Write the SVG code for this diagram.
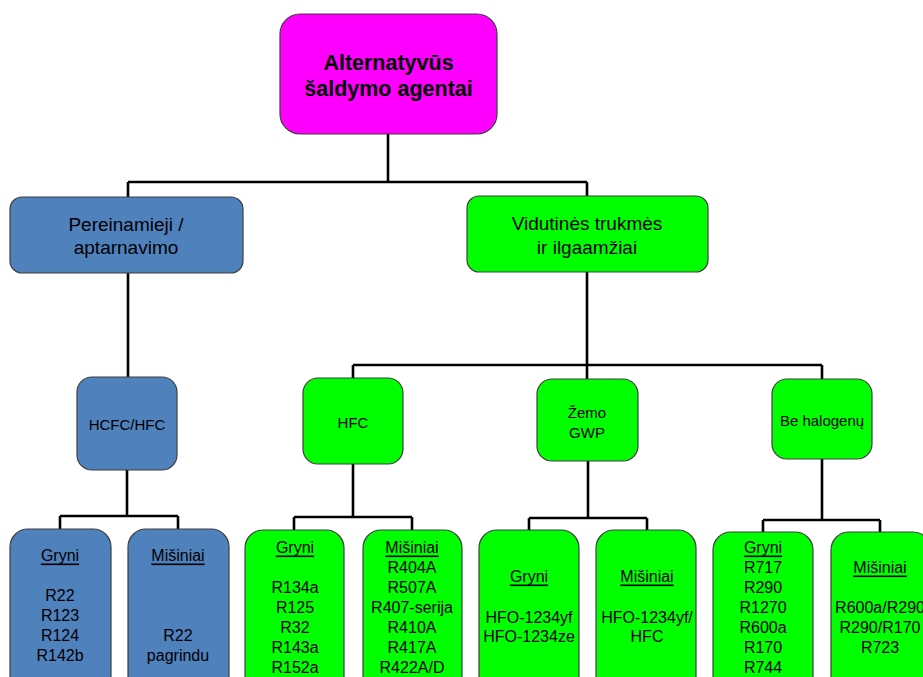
<svg xmlns="http://www.w3.org/2000/svg" width="923" height="677" viewBox="0 0 923 677">
<style>
text{font-family:"Liberation Sans",Arial,sans-serif;fill:#000;text-anchor:middle;dominant-baseline:central}
.box{stroke:#3f3f3f;stroke-width:1.2}
.blue{fill:#4F81BD}
.green{fill:#00FF00}
.mag{fill:#FF00FF}
.conn{stroke:#000;stroke-width:2.6;fill:none}
.t19{font-size:19px}
.t15{font-size:15px}
.t16{font-size:16px}
.u{text-decoration:underline}
</style>
<rect width="923" height="677" fill="#fff"/>
<g id="connectors">
<path class="conn" d="M388,134 V182 M128,182 H587 M128,182 V197 M587,182 V196"/>
<path class="conn" d="M128,273 V377"/>
<path class="conn" d="M587,272 V379 M353,365 H822 M353,365 V378 M822,365 V379"/>
<path class="conn" d="M127,470 V516 M60,516 H178 M60,516 V529 M178,516 V529"/>
<path class="conn" d="M353,464 V517 M294,517 H412 M294,517 V530 M412,517 V530"/>
<path class="conn" d="M588,461 V518 M529,518 H647 M529,518 V530 M647,518 V530"/>
<path class="conn" d="M822,459 V520 M763,520 H880 M763,520 V532 M880,520 V532"/>
</g>
<g id="root">
<rect class="box mag" x="280" y="14" width="217" height="120" rx="20"/>
<text x="388.5" y="63" style="font-size:21.5px;font-weight:bold">Alternatyvūs</text>
<text x="388.5" y="89" style="font-size:21.5px;font-weight:bold">šaldymo agentai</text>
</g>
<g id="pereinamieji">
<rect class="box blue" x="10" y="197" width="233" height="76" rx="12"/>
<text class="t19" x="126" y="224">Pereinamieji /</text>
<text class="t19" x="126" y="247">aptarnavimo</text>
</g>
<g id="vidutines">
<rect class="box green" x="467" y="196" width="241" height="76" rx="12"/>
<text class="t19" x="587" y="223">Vidutinės trukmės</text>
<text class="t19" x="587" y="247">ir ilgaamžiai</text>
</g>
<g id="hcfc-hfc">
<rect class="box blue" x="77" y="377" width="100" height="93" rx="15"/>
<text class="t15" x="127" y="424">HCFC/HFC</text>
</g>
<g id="hfc">
<rect class="box green" x="303" y="378" width="100" height="86" rx="15"/>
<text class="t15" x="353" y="422">HFC</text>
</g>
<g id="zemo-gwp">
<rect class="box green" x="537" y="379" width="101" height="82" rx="15"/>
<text class="t15" x="587" y="412">Žemo</text>
<text class="t15" x="587" y="432">GWP</text>
</g>
<g id="be-halogenu">
<rect class="box green" x="772" y="379" width="100" height="80" rx="15"/>
<text class="t15" x="822" y="420">Be halogenų</text>
</g>
<g id="hcfc-gryni">
<rect class="box blue" x="10" y="529" width="101" height="165" rx="18"/>
<text class="t16 u" x="60" y="555">Gryni</text>
<text class="t16" x="60" y="595">R22</text>
<text class="t16" x="60" y="615">R123</text>
<text class="t16" x="60" y="635">R124</text>
<text class="t16" x="60" y="655">R142b</text>
</g>
<g id="hcfc-misiniai">
<rect class="box blue" x="128" y="529" width="101" height="165" rx="18"/>
<text class="t16 u" x="178" y="555">Mišiniai</text>
<text class="t16" x="178" y="635">R22</text>
<text class="t16" x="178" y="655">pagrindu</text>
</g>
<g id="hfc-gryni">
<rect class="box green" x="245" y="530" width="99" height="165" rx="18"/>
<text class="t16 u" x="295" y="547">Gryni</text>
<text class="t16" x="295" y="587">R134a</text>
<text class="t16" x="295" y="607">R125</text>
<text class="t16" x="295" y="627">R32</text>
<text class="t16" x="295" y="647">R143a</text>
<text class="t16" x="295" y="667">R152a</text>
</g>
<g id="hfc-misiniai">
<rect class="box green" x="363" y="530" width="99" height="165" rx="18"/>
<text class="t16 u" x="412" y="547">Mišiniai</text>
<text class="t16" x="412" y="567">R404A</text>
<text class="t16" x="412" y="587">R507A</text>
<text class="t16" x="412" y="607">R407-serija</text>
<text class="t16" x="412" y="627">R410A</text>
<text class="t16" x="412" y="647">R417A</text>
<text class="t16" x="412" y="667">R422A/D</text>
</g>
<g id="gwp-gryni">
<rect class="box green" x="479" y="530" width="100" height="165" rx="18"/>
<text class="t16 u" x="529" y="576">Gryni</text>
<text class="t16" x="529" y="617">HFO-1234yf</text>
<text class="t16" x="529" y="636">HFO-1234ze</text>
</g>
<g id="gwp-misiniai">
<rect class="box green" x="596" y="530" width="100" height="165" rx="18"/>
<text class="t16 u" x="647" y="576">Mišiniai</text>
<text class="t16" x="647" y="617">HFO-1234yf/</text>
<text class="t16" x="647" y="636">HFC</text>
</g>
<g id="hal-gryni">
<rect class="box green" x="713" y="532" width="100" height="165" rx="18"/>
<text class="t16 u" x="763" y="547">Gryni</text>
<text class="t16" x="763" y="567">R717</text>
<text class="t16" x="763" y="587">R290</text>
<text class="t16" x="763" y="607">R1270</text>
<text class="t16" x="763" y="627">R600a</text>
<text class="t16" x="763" y="647">R170</text>
<text class="t16" x="763" y="667">R744</text>
</g>
<g id="hal-misiniai">
<rect class="box green" x="831" y="532" width="100" height="165" rx="18"/>
<text class="t16 u" x="880" y="567">Mišiniai</text>
<text class="t16" x="880" y="607">R600a/R290</text>
<text class="t16" x="880" y="627">R290/R170</text>
<text class="t16" x="880" y="647">R723</text>
</g>
</svg>
